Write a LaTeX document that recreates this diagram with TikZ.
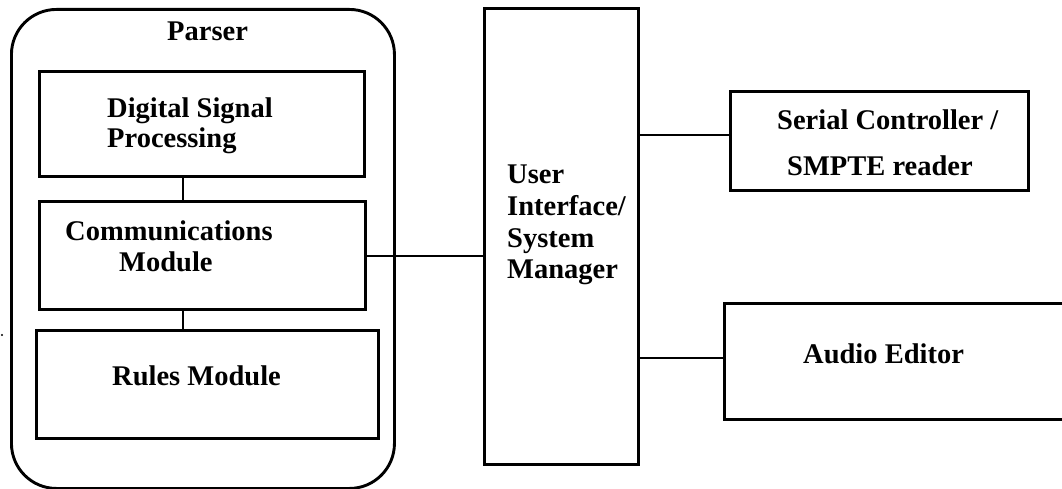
\documentclass[tikz,border=0pt]{standalone}
\usepackage{fontspec}
\setmainfont{Liberation Serif}
\begin{document}
\begin{tikzpicture}[x=1pt,y=-1pt,
  box/.style={draw,line width=2.9pt,inner sep=0pt,anchor=north west},
  lbl/.style={anchor=base west,inner sep=0pt,font=\fontsize{28.5}{33}\selectfont\bfseries},
  wire/.style={line width=2.9pt}]
\useasboundingbox (0,0) rectangle (1062,489);
% outer parser container
\node[box,rounded corners=45pt,minimum width=383pt,minimum height=479pt] (parser) at (10,8) {};
\node[lbl] (parserlbl) at (167,41) {Parser};
% inner boxes
\node[box,minimum width=325pt,minimum height=105pt] (dsp) at (38,70) {};
\node[lbl] (dspl1) at (107,118) {Digital Signal};
\node[lbl] (dspl2) at (107,148) {Processing};
\node[box,minimum width=326pt,minimum height=108pt] (comms) at (38,200) {};
\node[lbl] (comml1) at (65,240) {Communications};
\node[lbl] (comml2) at (119,271) {Module};
\node[box,minimum width=342pt,minimum height=108pt] (rules) at (35,329) {};
\node[lbl] (rulesl) at (112,385) {Rules Module};
% user interface
\node[box,minimum width=154pt,minimum height=456pt] (ui) at (483,7) {};
\node[lbl] (uil1) at (507,183) {User};
\node[lbl] (uil2) at (507,215) {Interface/};
\node[lbl] (uil3) at (507,247) {System};
\node[lbl] (uil4) at (507,278) {Manager};
% right boxes
\node[box,minimum width=298pt,minimum height=99pt] (serial) at (729,90) {};
\node[lbl] (seriall1) at (777,130) {Serial Controller /};
\node[lbl] (seriall2) at (787,176) {SMPTE reader};
\node[box,minimum width=360pt,minimum height=116pt] (audio) at (723,302) {};
\node[lbl] (audiol) at (803,363) {Audio Editor};
% connectors
\coordinate (vx) at (183,0);
\coordinate (ys) at (0,135);
\coordinate (ya) at (0,358);
\coordinate (yc) at (0,256);
\draw[wire] (dsp.south -| vx) -- (comms.north -| vx);
\draw[wire] (comms.south -| vx) -- (rules.north -| vx);
\draw[wire] (comms.east |- yc) -- (ui.west |- yc);
\draw[wire] (ui.east |- ys) -- (serial.west |- ys);
\draw[wire] (ui.east |- ya) -- (audio.west |- ya);
% stray mark
\fill (2,335) circle (1.2pt);
\end{tikzpicture}
\end{document}
